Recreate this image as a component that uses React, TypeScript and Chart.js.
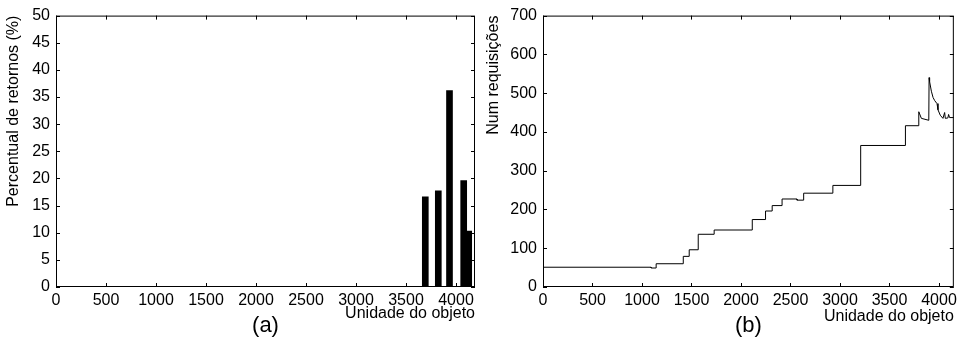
import React, { useEffect, useRef } from "react";
import { Chart, registerables } from "chart.js";

Chart.register(...registerables);

// ---- data: panel (a) ----
const retX = [3693, 3823, 3935, 4077, 4127];
const retY = [16.6, 17.7, 36.2, 19.6, 10.3];

// ---- data: panel (b) ----
const reqX = [
  0, 1092, 1092, 1143, 1143, 1417, 1417, 1477, 1477, 1568, 1568, 1729, 1729,
  2114, 2114, 2248, 2248, 2315, 2315, 2415, 2415, 2566, 2566, 2633, 2633,
  2928, 2928, 3209, 3209, 3661, 3661, 3796, 3796, 3822, 3897, 3900, 3905,
  3923, 3940, 3956, 3980, 3990, 4013, 4040, 4057, 4064, 4090, 4097, 4107, 4150,
];
const reqY = [
  51, 51, 49, 49, 60, 60, 79, 79, 96, 96, 136, 136, 147,
  147, 174, 174, 196, 196, 210, 210, 227, 227, 224, 224, 242,
  242, 262, 262, 365, 365, 416, 416, 452, 435, 430, 540, 530,
  505, 489, 481, 473, 457, 443, 435, 450, 435, 436, 445, 437, 437,
];

// ---- tick values ----
const xTickValues = [0, 500, 1000, 1500, 2000, 2500, 3000, 3500, 4000];
const yTickValuesA = [0, 5, 10, 15, 20, 25, 30, 35, 40, 45, 50];
const yTickValuesB = [0, 100, 200, 300, 400, 500, 600, 700];

const xTitle = "Unidade do objeto";
const yTitleA = "Percentual de retornos (%)";
const yTitleB = "Num requisições";

const FONT = "'Liberation Sans', Arial, Helvetica, sans-serif";

const framePlugin = {
  id: "frame",
  afterDraw(chart: any, _args: any, opts: any) {
    const { ctx, chartArea: a, scales } = chart;
    ctx.save();
    ctx.strokeStyle = "#000";
    ctx.lineWidth = 1;
    ctx.strokeRect(a.left + 0.5, a.top + 0.5, a.right - a.left - 1, a.bottom - a.top - 1);
    const tl = 4;
    ctx.beginPath();
    opts.xTicks.forEach((v: number) => {
      const px = Math.round(scales.x.getPixelForValue(v)) + 0.5;
      ctx.moveTo(px, a.bottom);
      ctx.lineTo(px, a.bottom - tl);
      ctx.moveTo(px, a.top);
      ctx.lineTo(px, a.top + tl);
    });
    opts.yTicks.forEach((v: number) => {
      const py = Math.round(scales.y.getPixelForValue(v)) + 0.5;
      ctx.moveTo(a.left, py);
      ctx.lineTo(a.left + tl, py);
      ctx.moveTo(a.right, py);
      ctx.lineTo(a.right - tl, py);
    });
    ctx.stroke();
    ctx.fillStyle = "#000";
    ctx.font = `22px ${FONT}`;
    ctx.textAlign = "center";
    ctx.textBaseline = "middle";
    ctx.fillText(opts.label, (a.left + a.right) / 2, a.bottom + 39);
    ctx.restore();
  },
};

function makeOptions(p: {
  xMax: number;
  yMax: number;
  yTicks: number[];
  yTitle: string;
  yWidth: number;
  padTop: number;
  padRight: number;
  xTitlePad: number;
  label: string;
}) {
  const tickFont = { size: 16, family: FONT };
  return {
    animation: false,
    responsive: false,
    devicePixelRatio: 1,
    layout: { padding: { left: 0, top: p.padTop, right: p.padRight, bottom: 0 } },
    plugins: {
      legend: { display: false },
      tooltip: { enabled: false },
      frame: { label: p.label, xTicks: xTickValues, yTicks: p.yTicks },
    },
    scales: {
      x: {
        type: "linear",
        min: 0,
        max: p.xMax,
        offset: false,
        grid: { display: false, drawTicks: false },
        border: { display: false },
        ticks: {
          autoSkip: false,
          maxRotation: 0,
          minRotation: 0,
          padding: 4,
          color: "#000",
          font: tickFont,
          callback: (v: any) => String(v),
        },
        afterBuildTicks: (s: any) => {
          s.ticks = xTickValues.map((v) => ({ value: v }));
        },
        title: {
          display: true,
          text: xTitle,
          align: "end",
          color: "#000",
          font: tickFont,
          padding: { top: 0, bottom: p.xTitlePad },
        },
        afterFit: (s: any) => {
          s.height = 61;
        },
      },
      y: {
        type: "linear",
        min: 0,
        max: p.yMax,
        grid: { display: false, drawTicks: false },
        border: { display: false },
        ticks: {
          autoSkip: false,
          padding: 6,
          color: "#000",
          font: tickFont,
          callback: (v: any) => String(v),
        },
        afterBuildTicks: (s: any) => {
          s.ticks = p.yTicks.map((v) => ({ value: v }));
        },
        title: {
          display: true,
          text: p.yTitle,
          align: "end",
          color: "#000",
          font: tickFont,
          padding: { top: 4, bottom: 0 },
        },
        afterFit: (s: any) => {
          s.width = p.yWidth;
        },
      },
    },
  } as any;
}

export default function App() {
  const refA = useRef<HTMLCanvasElement>(null);
  const refB = useRef<HTMLCanvasElement>(null);

  useEffect(() => {
    const chartA = new Chart(refA.current as HTMLCanvasElement, {
      type: "bar",
      data: {
        datasets: [
          {
            data: retX.map((x, i) => ({ x, y: retY[i] })),
            backgroundColor: "#000",
            borderWidth: 0,
            barThickness: 6,
            grouped: false,
          } as any,
        ],
      },
      options: makeOptions({
        xMax: 4190,
        yMax: 50,
        yTicks: yTickValuesA,
        yTitle: yTitleA,
        yWidth: 56,
        padTop: 11,
        padRight: 5,
        xTitlePad: 25,
        label: "(a)",
      }),
      plugins: [framePlugin],
    });
    const chartB = new Chart(refB.current as HTMLCanvasElement, {
      type: "line",
      data: {
        datasets: [
          {
            data: reqX.map((x, i) => ({ x, y: reqY[i] })),
            borderColor: "#000",
            borderWidth: 1,
            pointRadius: 0,
            tension: 0,
            fill: false,
          },
        ],
      },
      options: makeOptions({
        xMax: 4150,
        yMax: 700,
        yTicks: yTickValuesB,
        yTitle: yTitleB,
        yWidth: 63,
        padTop: 10,
        padRight: 6,
        xTitlePad: 22,
        label: "(b)",
      }),
      plugins: [framePlugin],
    });
    return () => {
      chartA.destroy();
      chartB.destroy();
    };
  }, []);

  return (
    <div style={{ position: "fixed", left: 0, top: 0, width: 961, height: 348, background: "#fff" }}>
      <canvas ref={refA} width={480} height={348} style={{ position: "absolute", left: 0, top: 0 }} />
      <canvas ref={refB} width={481} height={348} style={{ position: "absolute", left: 480, top: 0 }} />
    </div>
  );
}
